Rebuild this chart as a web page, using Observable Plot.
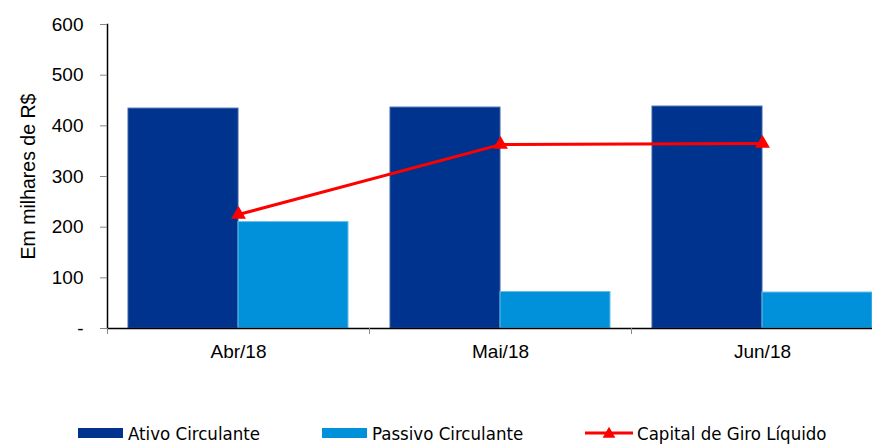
<!DOCTYPE html>
<html>
<head>
<meta charset="utf-8">
<script src="https://cdn.jsdelivr.net/npm/d3@7"></script>
<script src="https://cdn.jsdelivr.net/npm/@observablehq/plot@0.6"></script>
<style>
  html, body { margin: 0; padding: 0; background: #fff; }
  #wrap { position: relative; width: 872px; height: 446px; overflow: hidden; font-family: "Liberation Sans", Arial, sans-serif; }
  #legend { position: absolute; left: 0; top: 421px; width: 872px; height: 24px; font-family: "Liberation Sans Narrow", "Arial Narrow", "DejaVu Sans Condensed", sans-serif; font-size: 18.5px; color: #000; }
  .item { position: absolute; top: 0; height: 24px; display: flex; align-items: center; white-space: nowrap; }
  .sw { display: inline-block; width: 45px; height: 10px; margin-right: 5px; }
  svg.ln { margin-right: 4px; }
</style>
</head>
<body>
<div id="wrap">
  <div id="chart"></div>
  <div id="legend"></div>
</div>
<script>
const months = ["Abr/18", "Mai/18", "Jun/18"];
const ativo = [434, 436, 438];
const passivo = [210, 72, 71];
const capital = [225, 363, 365];
const yTicks = [0, 100, 200, 300, 400, 500, 600];
const seriesNames = ["Ativo Circulante", "Passivo Circulante", "Capital de Giro Líquido"];
const colors = ["#00338D", "#0091DA", "#FF0000"];

const ativoData = months.map((m, i) => ({month: m, value: ativo[i]}));
const passivoData = months.map((m, i) => ({month: m, value: passivo[i]}));
const capitalData = months.map((m, i) => ({month: m, value: capital[i]}));

const xLeft = 107, xRight = 893;
const bw = (xRight - xLeft) / months.length;
const barW = 110;
const gap = bw / 2 - barW;

const chart = Plot.plot({
  width: 872,
  height: 420,
  marginTop: 24,
  marginBottom: 92,
  marginLeft: 107,
  marginRight: 0,
  style: {fontFamily: "Liberation Sans, Arial, sans-serif", fontSize: "19px", color: "#000", background: "#fff"},
  x: {domain: months, range: [xLeft, xRight], padding: 0},
  y: {domain: [0, 600], range: [328, 24]},
  marks: [
    Plot.barY(ativoData, {x: "month", y: "value", fill: colors[0], insetLeft: gap, insetRight: bw / 2, stroke: "#3d63a8", strokeWidth: 1}),
    Plot.barY(passivoData, {x: "month", y: "value", fill: colors[1], insetLeft: bw / 2, insetRight: gap, stroke: "#66bde8", strokeWidth: 1}),
    Plot.ruleY([0], {stroke: "#000", strokeWidth: 1.5}),
    Plot.frame({anchor: "left", stroke: "#000", strokeWidth: 1.5}),
    Plot.axisY({ticks: yTicks, tickSize: 7, tickPadding: 17, stroke: "#888", tickFormat: d => d === 0 ? "-" : String(d), label: null, fontSize: 19}),
    Plot.text(["Em milhares de R$"], {frameAnchor: "left", textAnchor: "middle", dx: -79, rotate: -90, fill: "#000", fontSize: 19.5}),
    Plot.axisX({tickSize: 6, tickPadding: 0, tickFormat: () => "", stroke: "#888", dx: -bw / 2, label: null}),
    Plot.axisX({tickSize: 0, tickPadding: 16, label: null, fontSize: 19}),
    Plot.line(capitalData, {x: "month", y: "value", stroke: colors[2], strokeWidth: 3}),
    Plot.dot(capitalData, {x: "month", y: "value", symbol: "triangle", fill: colors[2], stroke: "none", r: 5.5})
  ]
});
document.getElementById("chart").appendChild(chart);

const legend = document.getElementById("legend");
const lx = [78, 322, 585];
seriesNames.forEach((name, i) => {
  const it = document.createElement("div");
  it.className = "item";
  it.style.left = lx[i] + "px";
  if (i < 2) {
    const sw = document.createElement("span");
    sw.className = "sw";
    sw.style.background = colors[i];
    it.appendChild(sw);
  } else {
    const s = d3.create("svg").attr("class", "ln").attr("width", 48).attr("height", 14);
    s.append("line").attr("x1", 0).attr("x2", 48).attr("y1", 7).attr("y2", 7).attr("stroke", colors[2]).attr("stroke-width", 3);
    s.append("path").attr("d", d3.symbol(d3.symbolTriangle, 70)()).attr("transform", "translate(24,8)").attr("fill", colors[2]);
    it.appendChild(s.node());
  }
  const t = document.createElement("span");
  t.textContent = name;
  it.appendChild(t);
  legend.appendChild(it);
});
</script>
</body>
</html>
